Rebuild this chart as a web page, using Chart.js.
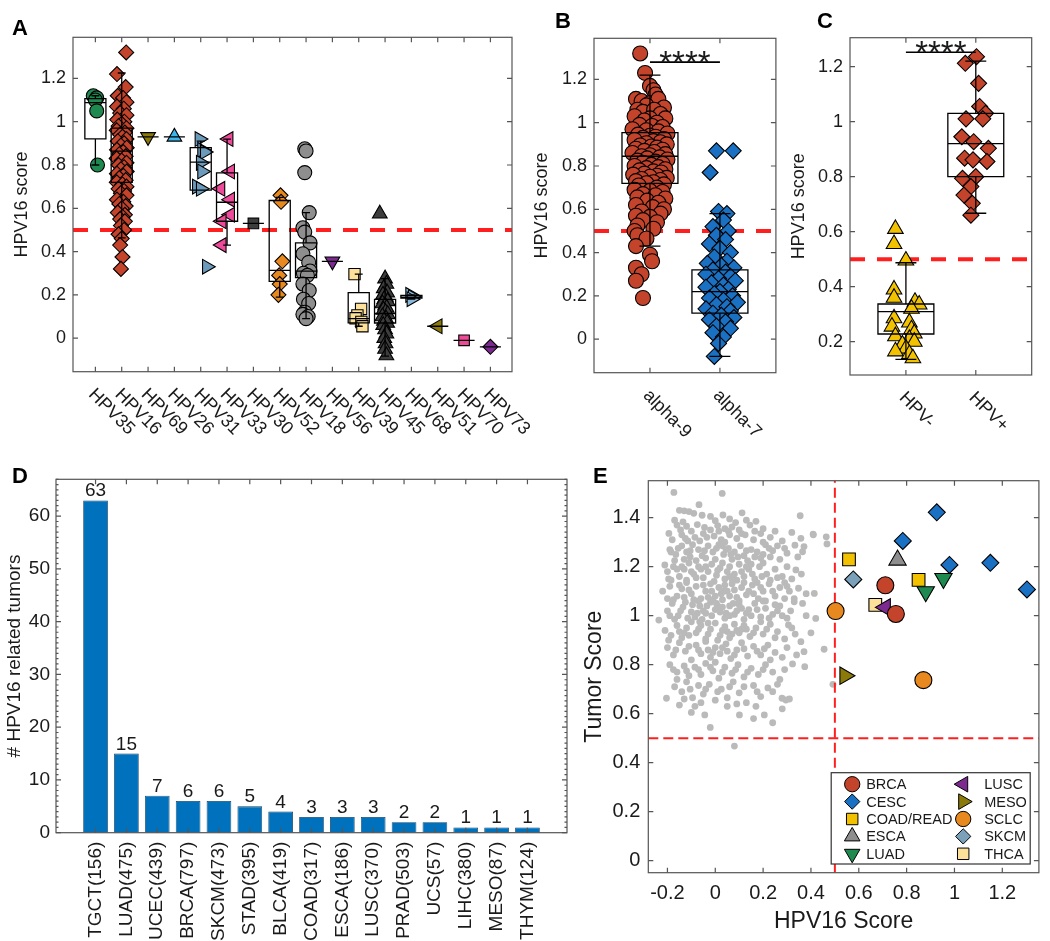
<!DOCTYPE html>
<html><head><meta charset="utf-8">
<script src="https://cdn.jsdelivr.net/npm/chart.js@4.4.1/dist/chart.umd.min.js"></script>
<style>
html,body{margin:0;padding:0;background:#fff;}
body{width:1050px;height:941px;position:relative;overflow:hidden;}
canvas{position:absolute;}
</style></head><body>
<canvas id="cA" width="545" height="455" style="left:0;top:0"></canvas>
<canvas id="cB" width="255" height="455" style="left:530px;top:0"></canvas>
<canvas id="cC" width="265" height="455" style="left:785px;top:0"></canvas>
<canvas id="cD" width="580" height="486" style="left:0;top:455px"></canvas>
<canvas id="cE" width="470" height="486" style="left:580px;top:455px"></canvas>
<script>
// ================= DATA =================
const threshold = 0.5;
// Panel A
const aCategories = ['HPV35','HPV16','HPV69','HPV26','HPV31','HPV33','HPV30','HPV52','HPV18','HPV56','HPV39','HPV45','HPV68','HPV51','HPV70','HPV73'];
const aYTicks = [0,0.2,0.4,0.6,0.8,1,1.2];
// points: [horizontal jitter, HPV16 score]
const hpv35 = [[-0.08,1.12],[0.05,1.11],[0.0,1.10],[0.05,1.05],[0.08,0.80]];
const hpv16 = [[0.17,1.32],[-0.18,1.22],[0.15,1.16],[-0.15,1.12],[0.05,1.11],[0.18,1.09],[-0.18,1.07],[0.08,1.06],[-0.06,1.04],[0.18,1.03],[-0.17,1.01],[0.1,1.0],[0,0.99],[-0.12,0.98],[0.18,0.97],[-0.19,0.96],[0.12,0.95],[-0.06,0.94],[0.03,0.93],[0.18,0.92],[-0.15,0.91],[0.09,0.90],[-0.03,0.89],[0.19,0.88],[-0.18,0.87],[0.06,0.86],[-0.09,0.85],[0.15,0.84],[-0.19,0.83],[0.0,0.82],[0.18,0.81],[-0.12,0.80],[0.09,0.79],[-0.03,0.78],[0.19,0.77],[-0.18,0.76],[0.06,0.75],[-0.09,0.74],[0.15,0.73],[-0.19,0.72],[0.03,0.71],[0.18,0.70],[-0.12,0.69],[0.09,0.68],[-0.03,0.67],[0.18,0.66],[-0.18,0.64],[0.06,0.63],[-0.09,0.62],[0.15,0.61],[0.0,0.60],[-0.15,0.58],[0.12,0.57],[0.03,0.56],[-0.06,0.55],[0.12,0.54],[-0.03,0.52],[0.09,0.50],[-0.12,0.48],[0.0,0.46],[-0.06,0.43],[0.03,0.375],[-0.03,0.32]];
const hpv69 = [[0,0.93]];
const hpv26 = [[0,0.93]];
const hpv31 = [[-0.05,0.92],[0.05,0.87],[0.15,0.86],[0.0,0.81],[0.05,0.77],[-0.15,0.70],[0.0,0.69],[0.23,0.33]];
const hpv33 = [[0.06,0.92],[0.12,0.77],[-0.25,0.69],[0.12,0.64],[0.12,0.57],[-0.2,0.54],[-0.2,0.43]];
const hpv30 = [[0,0.53]];
const hpv52 = [[0.03,0.66],[0.05,0.63],[0.1,0.355],[-0.02,0.29],[0.0,0.25],[-0.05,0.20]];
const hpv18 = [[-0.05,0.875],[0.0,0.865],[-0.05,0.765],[0.12,0.58],[-0.12,0.51],[-0.05,0.49],[0.15,0.44],[-0.12,0.39],[0.1,0.35],[0.15,0.31],[-0.1,0.30],[0.05,0.29],[-0.12,0.25],[0.12,0.22],[-0.1,0.18],[0.1,0.16],[-0.05,0.12],[-0.12,0.11],[0.08,0.10],[0.0,0.09]];
const hpv56 = [[0,0.355]];
const hpv39 = [[-0.16,0.296],[0.09,0.135],[-0.05,0.105],[-0.12,0.092],[0.1,0.075],[0.14,0.055]];
const hpv45 = [[-0.2,0.575],[0.0,0.275],[0.05,0.25],[-0.05,0.23],[0.08,0.21],[-0.08,0.20],[0.03,0.19],[-0.03,0.18],[0.1,0.17],[-0.1,0.16],[0.0,0.15],[0.06,0.14],[-0.06,0.13],[0.02,0.12],[0.1,0.11],[-0.1,0.10],[0.04,0.09],[-0.04,0.08],[0.08,0.07],[-0.07,0.06],[0.0,0.04],[0.05,0.02],[-0.03,0.0],[0.02,-0.025],[0.0,-0.05],[0.05,-0.08]];
const hpv68 = [[-0.05,0.20],[0.05,0.19],[0.0,0.18]];
const hpv51 = [[0,0.055]];
const hpv70 = [[0,-0.01]];
const hpv73 = [[0,-0.04]];
const aGroups = [hpv35,hpv16,hpv69,hpv26,hpv31,hpv33,hpv30,hpv52,hpv18,hpv56,hpv39,hpv45,hpv68,hpv51,hpv70,hpv73];
const aQ1  = [0.921,0.72,0.93,0.93,0.684,0.54,0.53,0.262,0.28,0.355,0.071,0.07,0.185,0.055,-0.01,-0.04];
const aMed = [1.088,0.864,0.93,0.93,0.813,0.628,0.53,0.313,0.31,0.355,0.09,0.114,0.19,0.055,-0.01,-0.04];
const aQ3  = [1.107,0.97,0.93,0.93,0.88,0.764,0.53,0.636,0.44,0.355,0.21,0.179,0.198,0.055,-0.01,-0.04];
const aLo  = [0.80,0.463,0.93,0.93,0.684,0.43,0.53,0.19,0.09,0.355,0.055,-0.083,0.18,0.055,-0.01,-0.04];
const aHi  = [1.12,1.225,0.93,0.93,0.91,0.92,0.53,0.65,0.58,0.355,0.296,0.275,0.20,0.055,-0.01,-0.04];

// Panel B
const bCategories = ['alpha-9','alpha-7'];
const bYTicks = [0,0.2,0.4,0.6,0.8,1,1.2];
const alpha9 = [[-0.14,1.32],[-0.07,1.23],[0.0,1.17],[0.05,1.15],[0.08,1.13],[-0.2,1.11],[-0.12,1.10],[0.0,1.09],[0.12,1.11],[-0.05,1.08],[0.2,1.07],[-0.18,1.06],[-0.1,1.05],[0.06,1.06],[0.15,1.04],[-0.22,1.03],[0.0,1.02],[0.22,1.02],[-0.08,1.01],[0.1,1.0],[-0.15,0.99],[0.03,0.985],[0.18,0.98],[-0.25,0.97],[-0.05,0.965],[0.12,0.96],[0.25,0.95],[-0.17,0.945],[0.0,0.94],[0.08,0.935],[-0.1,0.93],[0.2,0.925],[-0.22,0.92],[0.05,0.915],[0.15,0.91],[-0.05,0.905],[0.24,0.9],[-0.14,0.895],[0.02,0.89],[0.1,0.885],[-0.2,0.88],[0.18,0.875],[-0.08,0.87],[0.06,0.865],[-0.25,0.86],[0.22,0.855],[0.0,0.85],[-0.12,0.845],[0.14,0.84],[-0.04,0.835],[0.25,0.83],[-0.18,0.825],[0.08,0.82],[-0.1,0.815],[0.18,0.81],[0.02,0.805],[-0.22,0.8],[0.12,0.795],[-0.05,0.79],[0.22,0.785],[-0.15,0.78],[0.05,0.775],[0.16,0.77],[-0.08,0.765],[-0.24,0.76],[0.1,0.755],[0.0,0.75],[0.24,0.745],[-0.12,0.74],[0.15,0.735],[-0.2,0.73],[0.05,0.725],[-0.05,0.72],[0.2,0.715],[-0.16,0.71],[0.1,0.70],[-0.22,0.69],[0.0,0.685],[0.18,0.68],[-0.1,0.67],[0.08,0.665],[-0.18,0.655],[0.22,0.65],[-0.04,0.64],[0.12,0.63],[-0.2,0.62],[0.04,0.61],[0.2,0.60],[-0.12,0.59],[0.15,0.58],[-0.2,0.57],[0.0,0.565],[-0.1,0.55],[0.1,0.54],[-0.18,0.525],[0.05,0.51],[-0.22,0.5],[-0.18,0.48],[-0.05,0.465],[-0.2,0.43],[0.0,0.39],[0.03,0.36],[-0.2,0.33],[-0.12,0.30],[-0.2,0.27],[-0.1,0.19]];
const alpha7 = [[-0.05,0.87],[0.19,0.87],[-0.14,0.77],[-0.02,0.59],[0.1,0.58],[0.05,0.55],[-0.1,0.52],[0.12,0.5],[-0.05,0.48],[0.08,0.46],[-0.15,0.44],[0.0,0.42],[0.15,0.4],[-0.08,0.38],[0.1,0.36],[-0.18,0.35],[0.02,0.34],[0.2,0.33],[-0.1,0.32],[0.08,0.31],[-0.2,0.3],[0.15,0.29],[-0.02,0.28],[0.22,0.27],[-0.12,0.26],[0.05,0.25],[-0.2,0.24],[0.12,0.23],[0.0,0.22],[-0.08,0.21],[0.18,0.2],[-0.15,0.19],[0.05,0.18],[0.25,0.17],[-0.05,0.16],[0.1,0.15],[-0.2,0.14],[0.15,0.13],[-0.1,0.12],[0.02,0.11],[0.2,0.1],[-0.15,0.09],[0.08,0.08],[-0.05,0.06],[0.15,0.05],[-0.1,0.03],[0.05,0.01],[-0.02,-0.02],[-0.08,-0.08]];
const bQ1 = [0.72,0.12], bMed = [0.845,0.22], bQ3 = [0.954,0.32], bLo = [0.43,-0.08], bHi = [1.22,0.58];
const bSigY = 1.28;

// Panel C
const cCategories = ['HPV-','HPV+'];
const cYTicks = [0.2,0.4,0.6,0.8,1,1.2];
const hpvNeg = [[-0.15,0.61],[-0.17,0.555],[0.0,0.495],[-0.17,0.39],[-0.17,0.36],[0.13,0.345],[0.19,0.335],[0.08,0.32],[-0.17,0.285],[0.05,0.27],[-0.2,0.255],[0.08,0.245],[0.12,0.23],[-0.15,0.22],[0.05,0.21],[0.12,0.2],[-0.05,0.19],[0.0,0.175],[-0.15,0.165],[0.05,0.155],[0.1,0.14]];
const hpvPos = [[-0.15,1.212],[0.01,1.236],[0.04,1.139],[0.055,1.055],[-0.14,1.01],[0.14,1.03],[0.1,1.01],[-0.2,0.945],[-0.03,0.927],[0.18,0.903],[-0.16,0.867],[-0.04,0.861],[0.16,0.855],[-0.19,0.794],[0.0,0.8],[-0.07,0.764],[-0.17,0.733],[-0.05,0.703],[-0.07,0.66]];
const cQ1 = [0.228,0.80], cMed = [0.309,0.92], cQ3 = [0.337,1.03], cLo = [0.136,0.667], cHi = [0.487,1.22];
const cSigY = 1.252;

// Panel D
const dLabels = ['TGCT(156)','LUAD(475)','UCEC(439)','BRCA(797)','SKCM(473)','STAD(395)','BLCA(419)','COAD(317)','ESCA(186)','LUSC(370)','PRAD(503)','UCS(57)','LIHC(380)','MESO(87)','THYM(124)'];
const dValues = [63,15,7,6,6,5,4,3,3,3,2,2,1,1,1];
const dYTicks = [0,10,20,30,40,50,60];

// Panel E
const eXTicks = [-0.2,0,0.2,0.4,0.6,0.8,1,1.2];
const eYTicks = [0,0.2,0.4,0.6,0.8,1,1.2,1.4];
const eBRCA = [[0.711,1.124],[0.755,1.007]];
const eCESC = [[0.926,1.422],[0.784,1.305],[0.979,1.207],[1.150,1.216],[1.303,1.107]];
const eCOAD = [[0.559,1.230],[0.850,1.146]];
const eESCA = [[0.762,1.227]];
const eLUAD = [[0.954,1.152],[0.880,1.098]];
const eLUSC = [[0.711,1.034]];
const eMESO = [[0.542,0.755]];
const eSCLC = [[0.503,1.019],[0.870,0.737]];
const eSKCM = [[0.577,1.148]];
const eTHCA = [[0.669,1.044]];
const eCloud = [
[-0.173,1.503],[0.029,1.499],[-0.068,1.453],[0.032,1.411],[0.112,1.42],[0.355,1.408],[-0.15,1.43],[-0.13,1.428],[-0.11,1.425],[-0.09,1.418],[-0.055,1.41],[-0.02,1.405],[0.06,1.395],[0.13,1.39],[0.17,1.385],[-0.17,1.39],[-0.135,1.383],[0.0,1.388],[0.085,1.38],
[-0.194,1.336],[-0.16,1.37],[-0.12,1.365],[-0.1,1.345],[-0.075,1.372],[-0.045,1.36],[-0.02,1.35],[0.01,1.368],[0.04,1.355],[0.07,1.362],[0.1,1.35],[0.145,1.37],[0.19,1.335],[0.2,1.355],[-0.14,1.33],[-0.085,1.32],[-0.05,1.335],[-0.005,1.325],[0.025,1.31],[0.06,1.33],[0.09,1.315],[0.125,1.33],[0.16,1.31],[0.23,1.32],[0.28,1.305],[0.409,1.333],[0.464,1.322],[0.358,1.316],[0.41,1.33],[-0.18,1.31],[-0.115,1.305],[0.2,1.3],[0.04,1.3],
[-0.211,1.207],[-0.19,1.27],[-0.165,1.25],[-0.14,1.285],[-0.12,1.26],[-0.095,1.29],[-0.07,1.27],[-0.055,1.245],[-0.03,1.285],[-0.01,1.26],[0.015,1.29],[0.035,1.25],[0.055,1.275],[0.08,1.26],[0.105,1.285],[0.12,1.245],[0.15,1.27],[0.175,1.26],[0.21,1.29],[0.24,1.265],[0.26,1.285],[0.3,1.255],[0.333,1.288],[0.371,1.282],[0.365,1.261],[0.467,1.293],[-0.17,1.225],[-0.13,1.23],[-0.08,1.225],[-0.04,1.235],[0.0,1.23],[0.07,1.23],[0.095,1.24],[0.135,1.225],[0.19,1.235],[0.23,1.24],[0.27,1.23],[0.2,1.25],[-0.105,1.24],[0.045,1.27],
[-0.2,1.18],[-0.175,1.2],[-0.15,1.16],[-0.13,1.19],[-0.11,1.215],[-0.09,1.17],[-0.07,1.2],[-0.05,1.155],[-0.03,1.18],[-0.015,1.21],[0.005,1.165],[0.02,1.195],[0.04,1.15],[0.06,1.2],[0.08,1.17],[0.1,1.21],[0.12,1.16],[0.14,1.19],[0.165,1.15],[0.185,1.2],[0.215,1.17],[0.25,1.19],[0.28,1.16],[0.3,1.2],[0.337,1.187],[0.32,1.15],[-0.185,1.145],[-0.12,1.145],[-0.06,1.19],[0.03,1.215],[0.09,1.145],[0.2,1.215],[0.23,1.145],[-0.005,1.14],[0.15,1.21],[0.06,1.16],[-0.1,1.18],[0.11,1.18],
[-0.22,1.1],[-0.19,1.12],[-0.16,1.08],[-0.14,1.11],[-0.12,1.135],[-0.1,1.09],[-0.08,1.12],[-0.06,1.07],[-0.04,1.1],[-0.02,1.13],[0.0,1.08],[0.015,1.115],[0.03,1.065],[0.05,1.1],[0.07,1.13],[0.09,1.075],[0.11,1.115],[0.13,1.085],[0.155,1.125],[0.18,1.07],[0.2,1.1],[0.225,1.13],[0.25,1.08],[0.27,1.115],[0.29,1.07],[0.348,1.112],[0.31,1.1],[0.414,1.091],[-0.175,1.065],[-0.07,1.06],[0.04,1.125],[0.1,1.06],[0.14,1.1],[0.21,1.06],[-0.03,1.075],[0.06,1.08],[-0.13,1.075],[0.175,1.135],[0.33,1.07],[-0.015,1.1],[0.025,1.09],
[-0.236,0.982],[-0.2,1.02],[-0.18,1.05],[-0.155,1.0],[-0.135,1.035],[-0.115,0.99],[-0.095,1.045],[-0.075,1.01],[-0.055,0.985],[-0.035,1.04],[-0.015,1.0],[0.005,1.05],[0.02,1.015],[0.04,0.99],[0.06,1.04],[0.08,1.005],[0.1,1.045],[0.12,0.985],[0.14,1.025],[0.165,1.05],[0.19,0.995],[0.21,1.03],[0.24,1.005],[0.27,1.04],[0.3,0.99],[0.33,1.057],[0.365,1.05],[0.42,0.989],[0.28,1.0],[-0.17,0.985],[-0.05,1.02],[0.03,1.035],[0.09,1.02],[0.2,1.06],[-0.1,1.015],[0.0,1.025],[0.06,1.0],[-0.02,1.055],[0.15,1.0],[0.25,1.045],[-0.125,1.055],[0.11,1.03],[-0.065,1.04],
[-0.21,0.94],[-0.185,0.92],[-0.16,0.96],[-0.14,0.91],[-0.12,0.95],[-0.1,0.975],[-0.08,0.93],[-0.06,0.96],[-0.04,0.905],[-0.02,0.945],[0.0,0.97],[0.02,0.92],[0.04,0.955],[0.06,0.91],[0.08,0.965],[0.1,0.93],[0.12,0.96],[0.145,0.915],[0.17,0.95],[0.2,0.925],[0.23,0.965],[0.26,0.935],[0.306,0.962],[0.334,0.925],[0.358,0.894],[0.29,0.905],[-0.065,0.975],[0.01,0.9],[0.09,0.94],[0.19,0.975],[-0.13,0.93],[0.05,0.935],[-0.03,0.97],[0.13,0.945],
[-0.2,0.87],[-0.175,0.84],[-0.15,0.89],[-0.125,0.855],[-0.1,0.82],[-0.08,0.88],[-0.06,0.845],[-0.04,0.895],[-0.02,0.83],[0.0,0.87],[0.02,0.845],[0.045,0.885],[0.065,0.825],[0.09,0.86],[0.11,0.89],[0.135,0.835],[0.16,0.875],[0.19,0.84],[0.22,0.88],[0.25,0.85],[0.28,0.83],[0.371,0.853],[0.455,0.863],[0.23,0.82],[-0.03,0.86],[0.05,0.855],
[-0.19,0.8],[-0.16,0.77],[-0.13,0.795],[-0.11,0.755],[-0.085,0.79],[-0.06,0.76],[-0.04,0.805],[-0.01,0.775],[0.015,0.745],[0.04,0.79],[0.07,0.765],[0.095,0.8],[0.12,0.75],[0.15,0.785],[0.18,0.76],[0.21,0.8],[0.24,0.77],[0.374,0.792],[0.323,0.803],[0.27,0.74],[0.0,0.81],
[-0.204,0.663],[-0.17,0.71],[-0.14,0.69],[-0.12,0.73],[-0.095,0.665],[-0.07,0.715],[-0.05,0.68],[-0.025,0.72],[0.0,0.655],[0.025,0.7],[0.05,0.665],[0.075,0.73],[0.1,0.685],[0.13,0.645],[0.16,0.715],[0.19,0.67],[0.22,0.705],[0.295,0.656],[0.279,0.663],[0.205,0.595],[-0.085,0.63],[0.05,0.63],[0.492,0.72],[0.26,0.72],[-0.15,0.635],
[0.24,0.563],[0.101,0.595],[0.08,0.468],[-0.021,0.544],[-0.044,0.595],[0.16,0.58],[-0.1,0.605],
[-0.145,1.35],[-0.125,1.315],[-0.065,1.305],[-0.035,1.32],[0.015,1.345],[0.055,1.345],[0.11,1.335],[0.165,1.345],[0.25,1.345],[0.32,1.34],
[-0.185,1.26],[-0.155,1.275],[-0.105,1.265],[-0.045,1.265],[0.005,1.275],[0.03,1.285],[0.065,1.25],[0.13,1.265],[0.165,1.24],[0.225,1.275],[0.29,1.275],[0.345,1.24],
[-0.195,1.15],[-0.16,1.19],[-0.14,1.2],[-0.08,1.155],[-0.04,1.2],[0.01,1.185],[0.05,1.18],[0.07,1.15],[0.13,1.2],[0.155,1.17],[0.195,1.16],[0.26,1.155],[0.29,1.135],[0.36,1.17],
[-0.2,1.07],[-0.15,1.125],[-0.11,1.105],[-0.09,1.065],[-0.05,1.125],[-0.01,1.065],[0.035,1.1],[0.08,1.105],[0.12,1.135],[0.16,1.09],[0.19,1.115],[0.24,1.1],[0.3,1.12],[0.38,1.09],
[-0.19,1.0],[-0.145,1.02],[-0.085,0.995],[-0.04,1.01],[0.01,1.04],[0.045,1.01],[0.075,1.05],[0.13,1.01],[0.175,1.025],[0.225,0.99],[0.26,1.02],[0.315,1.02],[0.38,1.0],
[-0.195,0.9],[-0.15,0.935],[-0.11,0.92],[-0.07,0.945],[-0.03,0.925],[0.03,0.94],[0.07,0.925],[0.11,0.945],[0.16,0.93],[0.215,0.945],[0.25,0.91],[0.32,0.95],[0.4,0.93],
[-0.165,0.86],[-0.11,0.875],[-0.07,0.86],[-0.01,0.85],[0.03,0.87],[0.08,0.84],[0.12,0.865],[0.175,0.855],[0.205,0.865],[0.3,0.87],[0.34,0.84],
[-0.175,0.78],[-0.12,0.775],[-0.07,0.78],[-0.02,0.79],[0.03,0.77],[0.085,0.78],[0.135,0.77],[0.2,0.78],[0.29,0.78],
[-0.16,0.74],[-0.105,0.7],[-0.04,0.7],[0.01,0.69],[0.06,0.71],[0.12,0.71],[0.175,0.69],[0.24,0.69],
[-0.13,0.66],[-0.06,0.645],[0.09,0.64],[0.17,0.63],[0.28,0.62],[0.31,0.66]
];

// ================= STYLE / HELPERS =================
const FONT = '"Liberation Sans", Arial, Helvetica, sans-serif';
const TXT = '#1a1a1a';
const RED = '#ff1f1f';
const C_RED = '#c4432b', C_BLUE = '#1a70c2', C_GREEN = '#1f8a50', C_OLIVE = '#8b7a0a', C_LBLUE = '#3bb5ea',
      C_STEEL = '#6b9abb', C_LSTEEL = '#8ab8d8', C_PINK = '#ee4a9a', C_DGRAY = '#3d3d3d', C_ORANGE = '#e8891f',
      C_GRAY = '#8e8e8e', C_PURPLE = '#7d2a90', C_LYEL = '#fde19a', C_YEL = '#f2c200';
const fmt = v => String(+(+v).toFixed(2));
const fixY = w => s => { s.width = w; s.paddingTop = 0; s.paddingBottom = 0; };
const fixX = h => s => { s.height = h; s.paddingLeft = 0; s.paddingRight = 0; };
const setTicks = arr => s => { s.ticks = arr.map(v => ({value: v})); };
const NOGRID = {display: false, drawTicks: false, tickLength: 0};
const DECO = {};

const deco = {
  id: 'deco',
  afterDatasetsDraw(chart) {
    const o = DECO[chart.canvas.id]; if (!o || !o.boxes) return;
    const ctx = chart.ctx, xs = chart.scales.x, ys = chart.scales.y, b = o.boxes;
    ctx.save(); ctx.strokeStyle = '#000'; ctx.lineWidth = 1.3;
    for (let i = 0; i < b.q1.length; i++) {
      const c = i + 1;
      const xl = xs.getPixelForValue(c - 0.4), xr = xs.getPixelForValue(c + 0.4), xc = xs.getPixelForValue(c);
      const cl = xs.getPixelForValue(c - 0.15), cr = xs.getPixelForValue(c + 0.15);
      const y1 = ys.getPixelForValue(b.q1[i]), ym = ys.getPixelForValue(b.med[i]), y3 = ys.getPixelForValue(b.q3[i]);
      const ylo = ys.getPixelForValue(b.lo[i]), yhi = ys.getPixelForValue(b.hi[i]);
      ctx.beginPath();
      ctx.rect(xl, y3, xr - xl, y1 - y3);
      ctx.moveTo(xl, ym); ctx.lineTo(xr, ym);
      ctx.moveTo(xc, y3); ctx.lineTo(xc, yhi);
      ctx.moveTo(xc, y1); ctx.lineTo(xc, ylo);
      ctx.moveTo(cl, yhi); ctx.lineTo(cr, yhi);
      ctx.moveTo(cl, ylo); ctx.lineTo(cr, ylo);
      ctx.stroke();
    }
    ctx.restore();
  },
  afterDraw(chart) {
    const o = DECO[chart.canvas.id]; if (!o) return;
    const ctx = chart.ctx, ca = chart.chartArea, xs = chart.scales.x, ys = chart.scales.y;
    ctx.save();
    ctx.strokeStyle = '#555'; ctx.lineWidth = 1.2;
    ctx.strokeRect(ca.left, ca.top, ca.right - ca.left, ca.bottom - ca.top);
    ctx.beginPath();
    const tl = 5;
    o.yTicks.forEach(v => { const y = ys.getPixelForValue(v); ctx.moveTo(ca.left, y); ctx.lineTo(ca.left + tl, y); ctx.moveTo(ca.right, y); ctx.lineTo(ca.right - tl, y); });
    o.xTicks.forEach(v => { const x = xs.getPixelForValue(v); ctx.moveTo(x, ca.bottom); ctx.lineTo(x, ca.bottom - tl); ctx.moveTo(x, ca.top); ctx.lineTo(x, ca.top + tl); });
    if (o.minorStep) {
      for (let v = ys.min; v <= ys.max; v += o.minorStep) {
        const y = ys.getPixelForValue(Math.round(v));
        ctx.moveTo(ca.left, y); ctx.lineTo(ca.left + 2.5, y); ctx.moveTo(ca.right, y); ctx.lineTo(ca.right - 2.5, y);
      }
    }
    ctx.stroke();
    ctx.fillStyle = TXT;
    if (o.diag) {
      ctx.font = o.diag.size + 'px ' + FONT; ctx.textAlign = 'left'; ctx.textBaseline = 'middle';
      o.diag.labels.forEach((lab, i) => {
        ctx.save(); ctx.translate(xs.getPixelForValue(i + 1) + o.diag.dx, ca.bottom + o.diag.dy);
        ctx.rotate(Math.PI / 4); ctx.fillText(lab, 0, 0); ctx.restore();
      });
    }
    if (o.sig) {
      const x1 = xs.getPixelForValue(1), x2 = xs.getPixelForValue(2), y = ys.getPixelForValue(o.sig);
      ctx.strokeStyle = '#000'; ctx.lineWidth = 1.6;
      ctx.beginPath(); ctx.moveTo(x1, y); ctx.lineTo(x2, y); ctx.stroke();
      ctx.font = '33px ' + FONT; ctx.textAlign = 'center'; ctx.textBaseline = 'alphabetic';
      ctx.fillText('****', (x1 + x2) / 2, y + 12);
    }
    if (o.barLabels) {
      ctx.font = '19px ' + FONT; ctx.textAlign = 'center'; ctx.textBaseline = 'alphabetic';
      chart.getDatasetMeta(0).data.forEach((el, i) => ctx.fillText(String(o.barLabels[i]), el.x, el.y - 4));
    }
    if (o.legend) {
      const w = 199, h = 91.3, L = ca.right - 8.7 - w, T = ca.bottom - 8.7 - h;
      ctx.fillStyle = '#fff'; ctx.strokeStyle = '#333'; ctx.lineWidth = 1.2;
      ctx.fillRect(L, T, w, h); ctx.strokeRect(L, T, w, h);
      ctx.font = '14.5px ' + FONT; ctx.textAlign = 'left'; ctx.textBaseline = 'middle';
      o.legend.forEach((s, i) => {
        const col = i < 5 ? 0 : 1, row = i % 5;
        const mx = L + (col ? 132 : 21), tx = L + (col ? 153 : 35), y = T + 11.5 + row * 17.4;
        ctx.fillStyle = s.color; ctx.strokeStyle = '#000'; ctx.lineWidth = 1;
        Chart.helpers.drawPoint(ctx, {pointStyle: s.shape, rotation: s.rot || 0, radius: s.r * 0.9, borderWidth: 1}, mx, y);
        ctx.fillStyle = TXT; ctx.fillText(s.name, tx, y + 1);
      });
    }
    ctx.fillStyle = '#000'; ctx.font = 'bold 22px ' + FONT; ctx.textAlign = 'left'; ctx.textBaseline = 'alphabetic';
    ctx.fillText(o.letter[0], o.letter[1], o.letter[2]);
    ctx.restore();
  }
};

function yAxis(min, max, ticks, width, title, tsize, titleSize, tpad, lpad) {
  return {
    type: 'linear', min, max, grid: NOGRID, border: {display: false},
    afterFit: fixY(width), afterBuildTicks: setTicks(ticks),
    ticks: {autoSkip: false, padding: lpad, color: TXT, font: {family: FONT, size: tsize}, callback: v => fmt(v)},
    title: {display: true, text: title, color: TXT, font: {family: FONT, size: titleSize, lineHeight: 1.2}, padding: {top: tpad, bottom: 0}}
  };
}
function hiddenX(min, max, height) {
  return {type: 'linear', min, max, grid: NOGRID, border: {display: false},
    afterFit: fixX(height), ticks: {display: false}};
}
function scat(points, center, shape, rot, color, r) {
  return {data: points.map(p => ({x: center + p[0], y: p[1]})), pointStyle: shape, pointRotation: rot,
    backgroundColor: color, borderColor: '#000', borderWidth: 1.1, pointRadius: r, order: 1};
}
function hLine(x0, x1, y, width, dash) {
  return {data: [{x: x0, y}, {x: x1, y}], showLine: true, pointRadius: 0, borderColor: RED, borderWidth: width, borderDash: dash, order: 10};
}
function base(padT, padR) {
  return {responsive: false, animation: false, events: [],
    layout: {padding: {left: 0, top: padT, right: padR, bottom: 0}},
    plugins: {legend: {display: false}, tooltip: {enabled: false}}};
}

// ================= PANEL A =================
const aStyles = [['circle',0,C_GREEN,7],['rectRot',0,C_RED,7.5],['triangle',180,C_OLIVE,8.5],['triangle',0,C_LBLUE,8.5],
  ['triangle',90,C_STEEL,8.5],['triangle',270,C_PINK,8.5],['rect',0,C_DGRAY,7.5],['rectRot',0,C_ORANGE,7.5],
  ['circle',0,C_GRAY,7],['triangle',180,C_PURPLE,8.5],['rect',0,C_LYEL,8],['triangle',0,C_DGRAY,8.5],
  ['triangle',90,C_LSTEEL,8.5],['triangle',270,C_OLIVE,8.5],['rect',0,C_PINK,7.5],['rectRot',0,C_PURPLE,7.5]];
const aX = [0.15, 16.82], aY = [-0.155, 1.39];
DECO.cA = {yTicks: aYTicks, xTicks: aCategories.map((c, i) => i + 1), letter: ['A', 12, 35],
  boxes: {q1: aQ1, med: aMed, q3: aQ3, lo: aLo, hi: aHi}, diag: {labels: aCategories, dx: -4, dy: 20, size: 18}};
{
  const o = base(37.3, 33);
  o.scales = {x: hiddenX(aX[0], aX[1], 83.3), y: yAxis(aY[0], aY[1], aYTicks, 73, 'HPV16 score', 18, 18, 11.7, 7)};
  new Chart(document.getElementById('cA'), {type: 'scatter', plugins: [deco], options: o,
    data: {datasets: aGroups.map((g, i) => scat(g, i + 1, ...aStyles[i])).concat([hLine(aX[0], aX[1], threshold, 4, [15, 12])])}});
}

// ================= PANEL B =================
const bX = [0.2, 2.8], bY = [-0.155, 1.39];
DECO.cB = {yTicks: bYTicks, xTicks: [1, 2], letter: ['B', 25, 28], sig: bSigY,
  boxes: {q1: bQ1, med: bMed, q3: bQ3, lo: bLo, hi: bHi}, diag: {labels: bCategories, dx: -4, dy: 20, size: 18}};
{
  const o = base(38.3, 5);
  o.scales = {x: hiddenX(bX[0], bX[1], 82.3), y: yAxis(bY[0], bY[1], bYTicks, 64, 'HPV16 score', 18, 18, 1.7, 7)};
  new Chart(document.getElementById('cB'), {type: 'scatter', plugins: [deco], options: o,
    data: {datasets: [scat(alpha9, 1, 'circle', 0, C_RED, 7.5), scat(alpha7, 2, 'rectRot', 0, C_BLUE, 8), hLine(bX[0], bX[1], threshold, 4, [15, 12])]}});
}

// ================= PANEL C =================
const cX = [0.2, 2.8], cY = [0.079, 1.305];
DECO.cC = {yTicks: cYTicks, xTicks: [1, 2], letter: ['C', 32, 28], sig: cSigY,
  boxes: {q1: cQ1, med: cMed, q3: cQ3, lo: cLo, hi: cHi}, diag: {labels: cCategories, dx: -4, dy: 20, size: 18}};
{
  const o = base(37.7, 18.3);
  o.scales = {x: hiddenX(cX[0], cX[1], 80), y: yAxis(cY[0], cY[1], cYTicks, 65, 'HPV16 score', 18, 18, 3.2, 7)};
  new Chart(document.getElementById('cC'), {type: 'scatter', plugins: [deco], options: o,
    data: {datasets: [scat(hpvNeg, 1, 'triangle', 0, C_YEL, 9), scat(hpvPos, 2, 'rectRot', 0, C_RED, 8), hLine(cX[0], cX[1], threshold, 4, [15, 12])]}});
}

// ================= PANEL D =================
DECO.cD = {yTicks: dYTicks, xTicks: dLabels.map((l, i) => i + 1), letter: ['D', 12, 28], barLabels: dValues, minorStep: 1};
{
  const o = base(24.3, 13);
  o.scales = {
    x: {type: 'linear', min: 0.27, max: 15.73, grid: NOGRID, border: {display: false},
      afterFit: fixX(108.3), afterBuildTicks: setTicks(dLabels.map((l, i) => i + 1)),
      ticks: {autoSkip: false, minRotation: 90, maxRotation: 90, padding: 9, color: TXT, font: {family: FONT, size: 19},
        callback: v => dLabels[Math.round(v) - 1]}},
    y: yAxis(0, 67, dYTicks, 56, '# HPV16 related tumors', 19, 19, 3, 6)
  };
  new Chart(document.getElementById('cD'), {type: 'bar', plugins: [deco], options: o,
    data: {datasets: [{data: dValues.map((v, i) => ({x: i + 1, y: v})), backgroundColor: '#0072bd', borderColor: '#0d3b5e',
      borderWidth: 0.8, barPercentage: 0.8, categoryPercentage: 1}]}});
}

// ================= PANEL E =================
const eX = [-0.28, 1.353], eY = [-0.049, 1.551];
const eSeries = [
  {name: 'BRCA', pts: eBRCA, shape: 'circle', rot: 0, color: C_RED, r: 8.5},
  {name: 'CESC', pts: eCESC, shape: 'rectRot', rot: 0, color: C_BLUE, r: 8.5},
  {name: 'COAD/READ', pts: eCOAD, shape: 'rect', rot: 0, color: C_YEL, r: 9},
  {name: 'ESCA', pts: eESCA, shape: 'triangle', rot: 0, color: C_GRAY, r: 10},
  {name: 'LUAD', pts: eLUAD, shape: 'triangle', rot: 180, color: C_GREEN, r: 10},
  {name: 'LUSC', pts: eLUSC, shape: 'triangle', rot: 270, color: C_PURPLE, r: 10},
  {name: 'MESO', pts: eMESO, shape: 'triangle', rot: 90, color: C_OLIVE, r: 10},
  {name: 'SCLC', pts: eSCLC, shape: 'circle', rot: 0, color: C_ORANGE, r: 8.5},
  {name: 'SKCM', pts: eSKCM, shape: 'rectRot', rot: 0, color: '#7aa0ba', r: 8.5},
  {name: 'THCA', pts: eTHCA, shape: 'rect', rot: 0, color: C_LYEL, r: 9}
];
DECO.cE = {yTicks: eYTicks, xTicks: eXTicks, letter: ['E', 13, 28], legend: eSeries};
{
  const o = base(25.7, 9);
  o.scales = {
    x: {type: 'linear', min: eX[0], max: eX[1], grid: NOGRID, border: {display: false},
      afterFit: fixX(68.3), afterBuildTicks: setTicks(eXTicks),
      ticks: {autoSkip: false, maxRotation: 0, padding: 9, color: TXT, font: {family: FONT, size: 20}, callback: v => fmt(v)},
      title: {display: true, text: 'HPV16 Score', color: TXT, font: {family: FONT, size: 23, lineHeight: 1.2}, padding: {top: 0, bottom: 5.5}}},
    y: yAxis(eY[0], eY[1], eYTicks, 68.3, 'Tumor Score', 20, 23, 1.2, 8)
  };
  const ds = [{data: eCloud.map(p => ({x: p[0], y: p[1]})), pointRadius: 3.4, backgroundColor: '#bababa', borderWidth: 0, order: 20},
    {data: [{x: threshold, y: eY[0]}, {x: threshold, y: eY[1]}], showLine: true, pointRadius: 0, borderColor: RED, borderWidth: 2, borderDash: [10, 5], order: 10},
    hLine(eX[0], eX[1], threshold, 2, [10, 5])];
  eSeries.forEach(s => ds.push(scat(s.pts, 0, s.shape, s.rot, s.color, s.r)));
  new Chart(document.getElementById('cE'), {type: 'scatter', plugins: [deco], options: o, data: {datasets: ds}});
}
</script>
</body></html>
